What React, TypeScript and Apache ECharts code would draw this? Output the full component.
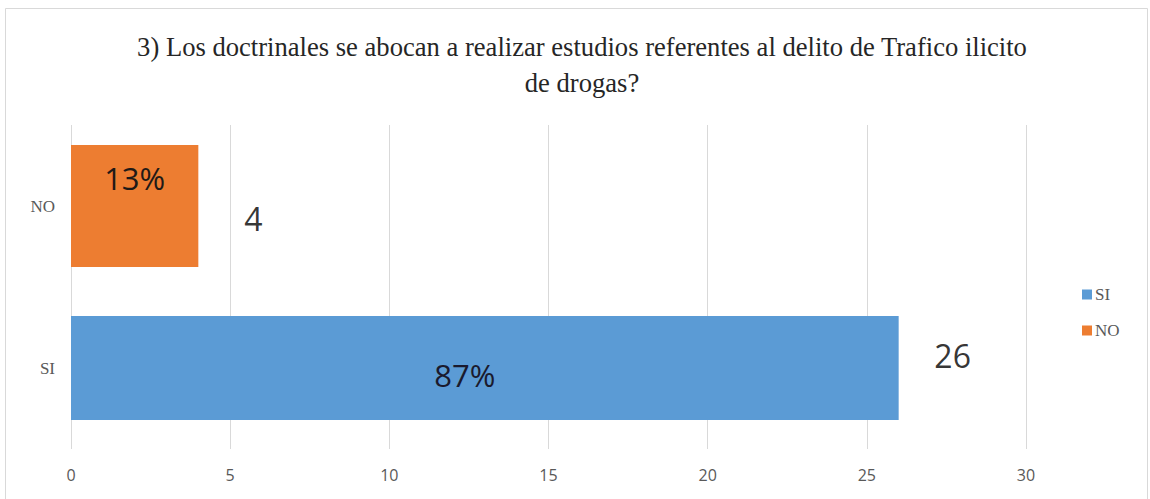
import React, { useEffect, useRef } from "react";
import * as echarts from "echarts";

const titleText = "3) Los doctrinales se abocan a realizar estudios referentes al delito de Trafico ilicito\nde drogas?";
const categories = ["SI", "NO"];
const seriesNames = ["SI", "NO"];
const siValues = [26, null];
const noValues = [null, 4];
const counts = [26, 4];
const xTicks = { min: 0, max: 30, interval: 5 };
const colors = ["#5B9BD5", "#ED7D31"];

const total = counts.reduce((a, b) => a + b, 0);
const pct = (v: number) => Math.round((v / total) * 100) + "%";

export default function App() {
  const ref = useRef<HTMLDivElement>(null);
  useEffect(() => {
    document.body.style.margin = "0";
    const chart = echarts.init(ref.current!, null, { renderer: "svg" });
    const sans = "'Open Sans', 'Liberation Sans', sans-serif";
    const serif = "'Liberation Serif', 'DejaVu Serif', serif";
    chart.setOption({
      animation: false,
      backgroundColor: "#ffffff",
      title: {
        text: titleText,
        left: 577,
        textAlign: "center",
        top: 24,
        textStyle: {
          fontFamily: serif,
          fontSize: 26.6,
          fontWeight: "normal",
          color: "#262626",
          lineHeight: 36,
        },
      },
      graphic: [
        {
          type: "rect",
          shape: { x: 5.5, y: 8.5, width: 1142, height: 520 },
          style: { fill: "none", stroke: "#d9d9d9", lineWidth: 1 },
          silent: true,
        },
      ],
      legend: {
        data: seriesNames,
        orient: "vertical",
        left: 1077,
        top: 281,
        itemWidth: 10,
        itemHeight: 10,
        itemGap: 19,
        icon: "rect",
        textStyle: { fontFamily: serif, fontSize: 17, color: "#595959", padding: [0, 0, 0, -2] },
      },
      grid: { left: 71, right: 124, top: 125, bottom: 50, containLabel: false },
      xAxis: {
        type: "value",
        min: xTicks.min,
        max: xTicks.max,
        interval: xTicks.interval,
        axisLine: { show: false },
        axisTick: { show: false },
        splitLine: { show: true, lineStyle: { color: "#d9d9d9", width: 1 } },
        axisLabel: { fontFamily: sans, fontSize: 16, color: "#595959", margin: 18 },
      },
      yAxis: [
        {
          type: "category",
          data: categories,
          axisLine: { show: false },
          axisTick: { show: false },
          axisLabel: { fontFamily: serif, fontSize: 17, color: "#595959", margin: 16 },
        },
        {
          type: "category",
          data: categories,
          show: false,
          position: "left",
        },
      ],
      series: [
        {
          name: seriesNames[0],
          type: "bar",
          yAxisIndex: 0,
          data: siValues,
          barWidth: 104,
          itemStyle: { color: colors[0] },
          label: {
            show: true,
            position: "inside",
            offset: [-20, 7],
            formatter: (p: any) => pct(p.value),
            fontFamily: sans,
            fontSize: 31,
            color: "#1a1a2e",
          },
        },
        {
          name: seriesNames[1],
          type: "bar",
          yAxisIndex: 1,
          data: noValues,
          barWidth: 122,
          itemStyle: { color: colors[1] },
          label: {
            show: true,
            position: "inside",
            offset: [0, -28],
            formatter: (p: any) => pct(p.value),
            fontFamily: sans,
            fontSize: 31,
            color: "#1f1a17",
          },
        },
        {
          name: "valores",
          type: "scatter",
          yAxisIndex: 0,
          symbolSize: 0,
          silent: true,
          data: [
            { value: [counts[0], 0], label: { offset: [54, -13] } },
            { value: [counts[1], 1], label: { offset: [55, 12] } },
          ],
          label: {
            show: true,
            position: "inside",
            formatter: (p: any) => String(p.value[0]),
            fontFamily: sans,
            fontSize: 32,
            color: "#000000",
          },
        },
      ],
    });
    return () => chart.dispose();
  }, []);
  return <div ref={ref} style={{ width: 1150, height: 499 }} />;
}
